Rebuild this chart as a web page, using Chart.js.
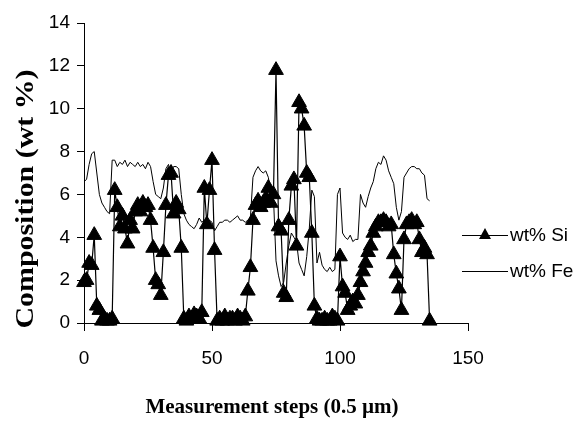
<!DOCTYPE html>
<html>
<head>
<meta charset="utf-8">
<script src="https://cdn.jsdelivr.net/npm/chart.js@4"></script>
<style>
  html, body { margin: 0; padding: 0; background: #fff; }
  #wrap { width: 588px; height: 425px; }
</style>
</head>
<body>
<div id="wrap"><canvas id="profileChart" width="588" height="425"></canvas></div>
<script>
const seriesNames = ["wt% Si", "wt% Fe"];
const xTicks = [0, 50, 100, 150];
const yTicks = [0, 2, 4, 6, 8, 10, 12, 14];

// one value per measurement step (0..135)
const siValues = [
  1.9, 2.0, 2.8, 2.7, 4.1, 0.8, 0.6, 0.1, 0.2, 0.1,
  0.1, 0.2, 6.2, 5.4, 4.5, 5.0, 4.4, 3.7, 4.8, 4.4,
  5.2, 5.5, 5.2, 5.6, 5.4, 5.5, 4.8, 3.5, 2.0, 1.8,
  1.3, 3.3, 5.5, 6.9, 7.0, 5.1, 5.6, 5.3, 3.5, 0.2,
  0.1, 0.3, 0.2, 0.4, 0.3, 0.2, 0.5, 6.3, 4.6, 6.2,
  7.6, 3.4, 0.1, 0.2, 0.1, 0.3, 0.1, 0.2, 0.2, 0.1,
  0.3, 0.2, 0.1, 0.3, 1.5, 2.6, 4.8, 5.5, 5.7, 5.4,
  5.6, 5.8, 6.3, 5.6, 6.0, 11.8, 4.5, 4.3, 1.4, 1.2,
  4.8, 6.4, 6.7, 3.6, 10.3, 10.0, 9.2, 7.0, 6.8, 4.2,
  0.8, 0.2, 0.1, 0.1, 0.2, 0.1, 0.1, 0.3, 0.2, 0.1,
  3.1, 1.7, 1.4, 0.6, 0.8, 1.0, 0.9, 1.3, 1.9, 2.4,
  2.8, 3.3, 3.6, 4.2, 4.5, 4.7, 4.7, 4.8, 4.7, 4.5,
  4.6, 3.2, 2.3, 1.6, 0.6, 3.9, 4.6, 4.7, 4.8, 4.6,
  4.7, 3.9, 3.3, 3.5, 3.2, 0.1
];
const feValues = [
  6.6, 6.7, 7.4, 7.9, 8.0, 7.0, 6.0, 5.6, 5.4, 5.2,
  5.1, 7.6, 7.6, 7.3, 7.5, 7.4, 7.6, 7.3, 7.5, 7.4,
  7.3, 7.5, 7.3, 7.4, 7.2, 7.5, 7.3, 6.6, 6.0, 5.9,
  5.8, 6.3, 7.2, 7.4, 7.0, 7.3, 7.3, 7.2, 6.0, 5.1,
  4.8, 4.6, 4.5, 4.4, 4.6, 4.9, 4.7, 4.8, 4.6, 4.8,
  4.7, 4.3, 4.5, 4.7, 4.7, 4.8, 4.8, 4.7, 4.8, 4.9,
  5.0, 4.8, 4.8, 4.7, 4.8, 4.9, 6.8, 7.1, 7.3, 7.1,
  7.0, 7.1, 6.8, 6.1, 5.9, 2.9, 2.2, 1.7, 1.9, 2.8,
  3.6, 4.2, 4.0, 3.8, 2.8, 2.5, 2.2, 3.1, 4.4, 6.2,
  5.9, 2.8, 3.3, 2.7, 2.5, 2.4, 2.6, 2.4, 2.5, 6.0,
  6.3, 4.2, 4.0, 3.9, 4.1, 3.8, 3.9, 3.9, 6.0, 5.6,
  5.4, 5.9, 6.3, 6.6, 7.2, 7.5, 7.4, 7.8, 7.6, 7.1,
  6.8, 6.5, 5.4, 4.8, 5.2, 6.8, 7.0, 7.2, 7.3, 7.3,
  7.2, 7.2, 7.0, 6.9, 5.8, 5.7
];

const toPoints = vals => vals.map((v, step) => ({ x: step, y: v }));

Chart.defaults.font.family = "'Liberation Sans', Arial, sans-serif";
Chart.defaults.font.size = 19;
Chart.defaults.color = "#000";

// titles and legend drawn by hand so they sit where the original has them
const decorations = {
  id: "decorations",
  afterDraw(chart) {
    const ctx = chart.ctx;
    ctx.save();
    ctx.fillStyle = "#000";
    ctx.strokeStyle = "#000";

    ctx.font = "bold 21px 'Liberation Serif', 'Times New Roman', serif";
    ctx.textAlign = "center";
    ctx.textBaseline = "middle";
    ctx.fillText("Measurement steps (0.5 µm)", 272, 408);

    // the original y title is stretched along its length
    ctx.save();
    ctx.translate(26, 199);
    ctx.rotate(-Math.PI / 2);
    ctx.scale(1.15, 1);
    ctx.font = "bold 26px 'Liberation Serif', 'Times New Roman', serif";
    ctx.fillText("Composition (wt %)", 0, 0);
    ctx.restore();

    // legend
    ctx.lineWidth = 1;
    ctx.textAlign = "left";
    ctx.font = "19px 'Liberation Sans', Arial, sans-serif";
    const rows = [235, 271];
    rows.forEach((y, i) => {
      ctx.beginPath();
      ctx.moveTo(462, y + 0.5);
      ctx.lineTo(508, y + 0.5);
      ctx.stroke();
      if (i === 0) {
        ctx.beginPath();
        ctx.moveTo(485, y - 7);
        ctx.lineTo(491, y + 4);
        ctx.lineTo(479, y + 4);
        ctx.closePath();
        ctx.fill();
      }
      ctx.fillText(seriesNames[i], 510, y + 1);
    });
    ctx.restore();
  }
};

new Chart(document.getElementById("profileChart"), {
  type: "line",
  data: {
    datasets: [
      {
        label: seriesNames[0],
        data: toPoints(siValues),
        borderColor: "#000",
        borderWidth: 1.2,
        pointStyle: "triangle",
        pointRadius: 8.5,
        pointBackgroundColor: "#000",
        pointBorderColor: "#000",
        pointBorderWidth: 1,
        tension: 0,
        clip: false
      },
      {
        label: seriesNames[1],
        data: toPoints(feValues),
        borderColor: "#000",
        borderWidth: 1,
        pointRadius: 0,
        tension: 0,
        clip: false
      }
    ]
  },
  options: {
    responsive: false,
    animation: false,
    layout: { padding: { left: 0, top: 23, right: 120, bottom: 0 } },
    plugins: {
      legend: { display: false },
      tooltip: { enabled: false }
    },
    scales: {
      x: {
        type: "linear",
        min: 0,
        max: 150,
        afterBuildTicks: s => { s.ticks = xTicks.map(v => ({ value: v })); },
        afterFit: s => { s.height = 102; },
        grid: { drawOnChartArea: false, color: "#000", tickLength: 8 },
        border: { color: "#000", width: 1 },
        ticks: { padding: 16, maxRotation: 0 }
      },
      y: {
        min: 0,
        max: 14,
        afterBuildTicks: s => { s.ticks = yTicks.map(v => ({ value: v })); },
        afterFit: s => { s.width = 84; },
        grid: { drawOnChartArea: false, color: "#000", tickLength: 7 },
        border: { color: "#000", width: 1 },
        ticks: { padding: 7 }
      }
    }
  },
  plugins: [decorations]
});
</script>
</body>
</html>
